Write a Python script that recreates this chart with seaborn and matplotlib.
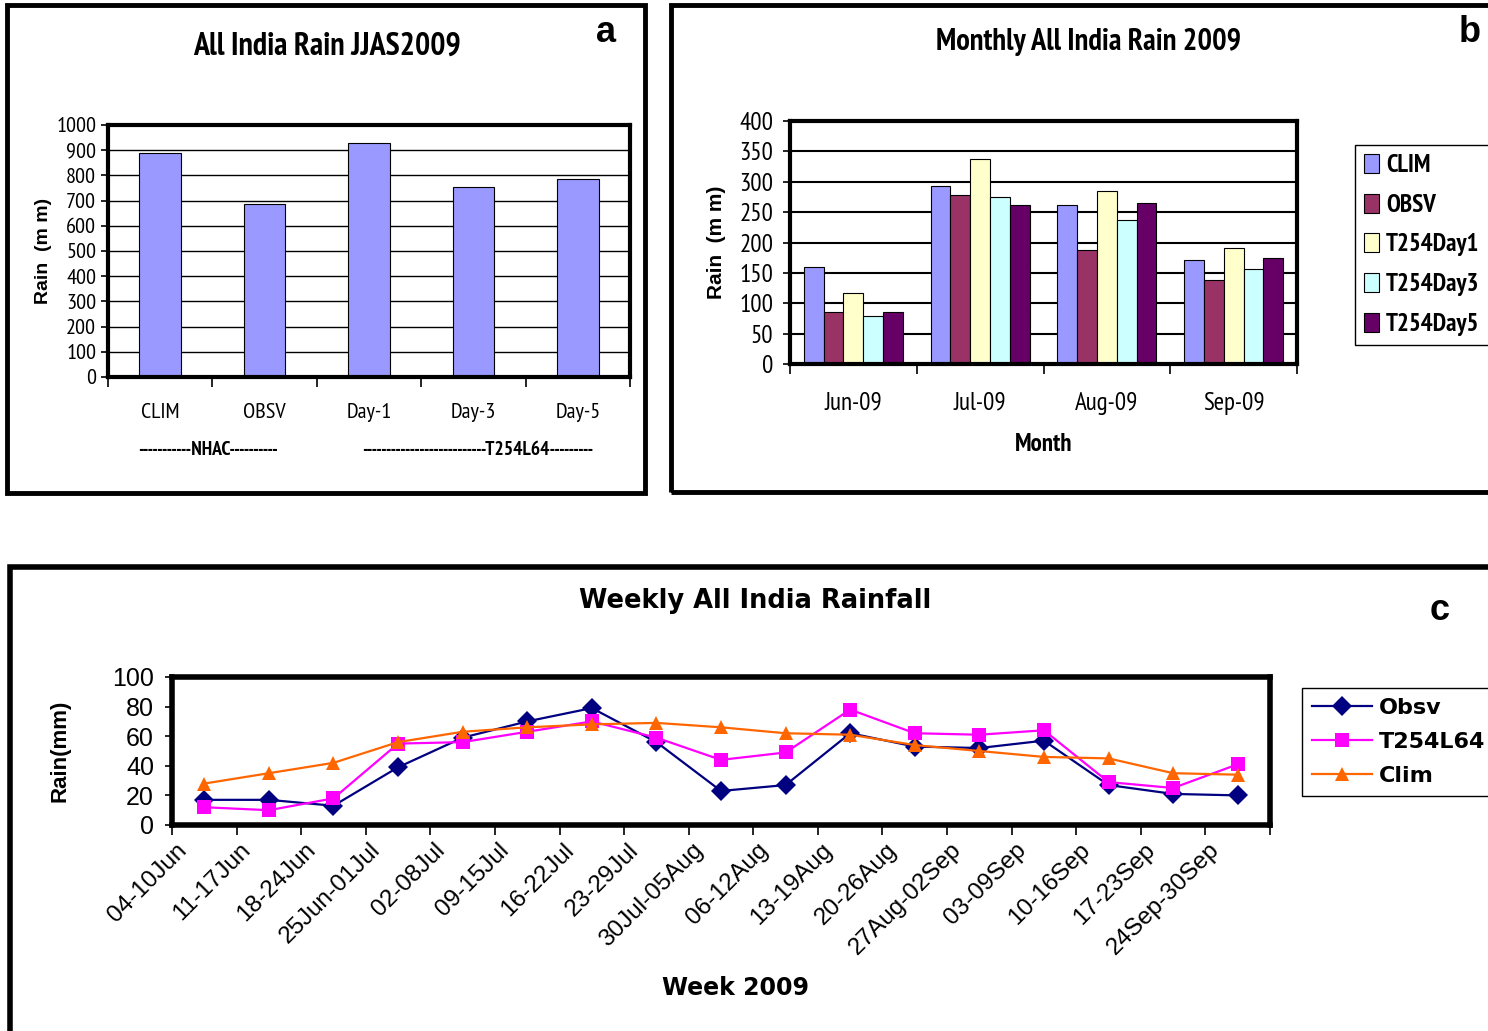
import numpy as np
import pandas as pd
import matplotlib
matplotlib.use('Agg')
import matplotlib.pyplot as plt
import seaborn as sns
from matplotlib.patches import Rectangle
from matplotlib import font_manager, patheffects

# ---- data ----
jjas_cats = ['CLIM', 'OBSV', 'Day-1', 'Day-3', 'Day-5']
jjas_rain = [889, 686, 929, 754, 786]

months = ['Jun-09', 'Jul-09', 'Aug-09', 'Sep-09']
month_series = ['CLIM', 'OBSV', 'T254Day1', 'T254Day3', 'T254Day5']
clim_m = [160, 293, 262, 171]
obsv_m = [86, 278, 188, 138]
day1_m = [117, 337, 285, 191]
day3_m = [79, 275, 237, 156]
day5_m = [86, 262, 265, 174]

weeks = ['04-10Jun', '11-17Jun', '18-24Jun', '25Jun-01Jul', '02-08Jul', '09-15Jul',
         '16-22Jul', '23-29Jul', '30Jul-05Aug', '06-12Aug', '13-19Aug', '20-26Aug',
         '27Aug-02Sep', '03-09Sep', '10-16Sep', '17-23Sep', '24Sep-30Sep']
obsv_w = [17, 17, 13, 39, 59, 70, 79, 56, 23, 27, 62, 53, 52, 57, 27, 21, 20]
t254_w = [12, 10, 18, 55, 56, 63, 70, 59, 44, 49, 78, 62, 61, 64, 29, 25, 41]
clim_w = [28, 35, 42, 56, 63, 66, 68, 69, 66, 62, 61, 54, 50, 46, 45, 35, 34]

# couleurs
month_colors = ['#9999FF', '#993366', '#FFFFCC', '#CCFFFF', '#660066']
week_colors = {'Obsv': '#000080', 'T254L64': '#FF00FF', 'Clim': '#FF6600'}
week_markers = {'Obsv': 'D', 'T254L64': 's', 'Clim': '^'}

# polices : Liberation Sans Narrow (type Arial Narrow) de préférence
POIDS = {'ultralight': 200, 'light': 300, 'normal': 400, 'regular': 400, 'book': 400,
         'medium': 500, 'semibold': 600, 'demibold': 600, 'bold': 700, 'heavy': 800,
         'extra bold': 800, 'black': 900}


def poids(f):
    w = f.weight
    return w if isinstance(w, (int, float)) else POIDS.get(str(w).lower(), 400)


ttf = font_manager.fontManager.ttflist
etroites = {}
for f in ttf:
    if 'Narrow' in f.name or 'Condensed' in f.name or f.stretch in ('condensed', 'semi-condensed'):
        etroites.setdefault((f.name, f.stretch), set()).add(poids(f))
choix = sorted(etroites.items(),
               key=lambda kv: ('Liberation' not in kv[0][0], 'Narrow' not in kv[0][0],
                               min(kv[1]) > 450, max(kv[1]) < 650))
if choix:
    (NARROW, STRETCH), ws = choix[0]
    SCALE = 1.0
    HAS_BOLD = max(ws) >= 650
else:
    NARROW, STRETCH, SCALE, HAS_BOLD = 'Liberation Sans', 'normal', 0.85, True
ARIAL = 'Liberation Sans'
WIDE = 'DejaVu Sans'
plt.rcParams['font.family'] = [ARIAL, 'DejaVu Sans']
FAUX_GRAS = [patheffects.withStroke(linewidth=1.2, foreground='black')]


def nprops(size, weight='normal'):
    return font_manager.FontProperties(family=NARROW, stretch=STRETCH, size=size * SCALE,
                                       weight=weight)


def ngras(t):
    # grasse "maison" si la police étroite n'a pas de version grasse
    if not HAS_BOLD:
        t.set_path_effects(FAUX_GRAS)
    return t


W, H = 1488, 1031
fig = plt.figure(figsize=(W / 100, H / 100), dpi=100)


def px_axes(x0, y0, x1, y1):
    return fig.add_axes([x0 / W, 1 - y1 / H, (x1 - x0) / W, (y1 - y0) / H])


def cadre(x0, y0, x1, y1, lw=3.5):
    fig.add_artist(Rectangle((x0 / W, 1 - y1 / H), (x1 - x0) / W, (y1 - y0) / H,
                             transform=fig.transFigure, fill=False, lw=lw, ec='black'))


def ftext(x, y, s, **kw):
    return fig.text(x / W, 1 - y / H, s, ha='center', va='center', **kw)


def style_axe(ax, lw, ncat):
    for sp in ax.spines.values():
        sp.set_linewidth(lw)
        sp.set_color('black')
    ax.set_xlim(-0.5, ncat - 0.5)
    ax.set_xticks(np.arange(-0.5, ncat, 1), minor=True)
    ax.tick_params(axis='x', which='minor', length=7, width=1.2, direction='out')
    ax.tick_params(axis='x', which='major', length=0)
    ax.tick_params(axis='y', which='major', length=5, width=1.2, direction='out')


def narrow_labels(ax, size):
    for lab in ax.get_xticklabels() + ax.get_yticklabels():
        lab.set_fontproperties(nprops(size))


# ---------------- panel a ----------------
cadre(7, 5, 645, 493)
ax_a = px_axes(108, 125, 630, 377)
sns.barplot(x=jjas_cats, y=jjas_rain, color='#9999FF', saturation=1, width=0.4,
            edgecolor='black', linewidth=0.8, ax=ax_a)
style_axe(ax_a, 3, len(jjas_cats))
ax_a.set_ylim(0, 1000)
ax_a.set_yticks(range(0, 1001, 100))
ax_a.yaxis.grid(True, color='black', lw=1)
ax_a.set_axisbelow(True)
ax_a.tick_params(axis='x', which='major', pad=19)
narrow_labels(ax_a, 16)
ax_a.set_xlabel('')
ax_a.set_ylabel('Rain  (m m)', fontsize=14, fontweight='bold')
ax_a.yaxis.set_label_coords(-0.107, 0.5)
ngras(ftext(327, 47, 'All India Rain JJAS2009', fontproperties=nprops(23, 'bold')))
ftext(606, 33, 'a', fontsize=26, fontweight='bold')
ngras(ftext(208, 450, '-----------NHAC----------', fontproperties=nprops(14, 'bold')))
ngras(ftext(478, 450, '--------------------------T254L64---------',
            fontproperties=nprops(14, 'bold')))

# ---------------- panel b ----------------
cadre(671, 5, 1500, 492)
ax_b = px_axes(790, 121, 1297, 364)
df_b = pd.DataFrame({'month': months * 5,
                     'series': np.repeat(month_series, len(months)),
                     'rain': clim_m + obsv_m + day1_m + day3_m + day5_m})
sns.barplot(data=df_b, x='month', y='rain', hue='series', palette=month_colors,
            saturation=1, width=0.78, edgecolor='black', linewidth=0.8, ax=ax_b)
style_axe(ax_b, 3, len(months))
ax_b.set_ylim(0, 400)
ax_b.set_yticks(range(0, 401, 50))
ax_b.yaxis.grid(True, color='black', lw=1.5)
ax_b.set_axisbelow(True)
ax_b.tick_params(axis='x', which='major', pad=20)
ax_b.tick_params(axis='y', which='major', pad=7)
narrow_labels(ax_b, 18)
ngras(ax_b.set_xlabel('Month', fontproperties=nprops(18, 'bold')))
ax_b.xaxis.set_label_coords(0.5, -0.285)
ax_b.set_ylabel('Rain  (m m)', fontsize=15, fontweight='bold')
ax_b.yaxis.set_label_coords(-0.126, 0.5)
leg_px = 18 * SCALE * 100 / 72
sns.move_legend(ax_b, 'upper left', bbox_to_anchor=(1355 / W, 1 - 145 / H),
                bbox_transform=fig.transFigure, title=None, frameon=True, fancybox=False,
                edgecolor='black', framealpha=1, handlelength=0.6, handleheight=0.8,
                handletextpad=0.3, labelspacing=(41 - leg_px * 0.98) / leg_px,
                borderpad=0.35, borderaxespad=0, prop=nprops(18, 'bold'))
leg_b = ax_b.get_legend()
leg_b.get_frame().set_linewidth(1)
for t in leg_b.get_texts():
    ngras(t)
ngras(ftext(1089, 42, 'Monthly All India Rain 2009', fontproperties=nprops(22, 'bold')))
ftext(1470, 33, 'b', fontsize=26, fontweight='bold')

# ---------------- panel c ----------------
cadre(10, 567, 1500, 1040, lw=4)
ax_c = px_axes(172, 677, 1270, 825)
df_c = pd.DataFrame({'week': weeks * 3,
                     'series': np.repeat(['Obsv', 'T254L64', 'Clim'], len(weeks)),
                     'rain': obsv_w + t254_w + clim_w})
sns.lineplot(data=df_c, x='week', y='rain', hue='series', style='series',
             palette=week_colors, markers=week_markers, dashes=False, sort=False,
             lw=1.6, markersize=10, markeredgewidth=0, ax=ax_c)
style_axe(ax_c, 4, len(weeks))
ax_c.set_ylim(0, 100)
ax_c.set_yticks(range(0, 101, 20))
# étiquettes décalées à gauche du centre de la catégorie, comme dans Excel
ax_c.set_xticks(np.arange(len(weeks)) - 0.45)
ax_c.set_xticklabels(weeks, rotation=45, ha='right', va='top', rotation_mode='anchor',
                     fontsize=17.5)
ax_c.tick_params(axis='x', which='major', pad=10)
ax_c.tick_params(axis='y', labelsize=18, pad=8)
ax_c.set_xlabel('')
ax_c.set_ylabel('Rain(mm)', fontsize=16, fontweight='bold')
ax_c.yaxis.set_label_coords(-0.092, 0.5)
sns.move_legend(ax_c, 'upper left', bbox_to_anchor=(1302 / W, 1 - 688 / H),
                bbox_transform=fig.transFigure, title=None, frameon=True, fancybox=False,
                edgecolor='black', framealpha=1, handlelength=2.7, handletextpad=0.3,
                labelspacing=0.62, borderpad=0.45, borderaxespad=0,
                prop={'family': WIDE, 'weight': 'bold', 'size': 16})
ax_c.get_legend().get_frame().set_linewidth(1)
ftext(755, 601, 'Weekly All India Rainfall', family=WIDE, fontsize=18.5, fontweight='bold')
ftext(736, 988, 'Week 2009', family=WIDE, fontsize=17, fontweight='bold')
ftext(1440, 610, 'c', fontsize=26, fontweight='bold')

fig.savefig('out.png', dpi=100)
